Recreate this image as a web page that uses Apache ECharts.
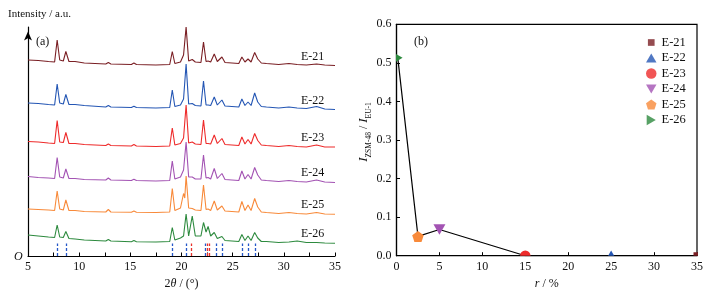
<!DOCTYPE html>
<html><head><meta charset="utf-8">
<script src="https://cdn.jsdelivr.net/npm/echarts@6/dist/echarts.min.js"></script>
<style>html,body{margin:0;padding:0;background:#fff}#c{width:710px;height:296px}</style>
</head><body><div id="c"></div>
<script>
// ---- data: panel (a) XRD patterns (stacked, a.u.) ----
const twoTheta = [5, 6, 7, 7.6, 7.85, 8.1, 8.45, 8.7, 9.0, 9.6, 10.5, 12.6, 12.85, 13.1, 15.1, 15.35, 15.6, 17.5, 18.85, 19.1, 19.35, 19.9, 20.2, 20.32, 20.45, 20.7, 21.05, 21.35, 21.9, 22.15, 22.4, 22.6, 22.85, 23.2, 23.5, 23.95, 24.25, 25.6, 25.9, 26.2, 26.5, 26.8, 27.15, 27.45, 27.8, 28.3, 28.9, 29.5, 30.5, 31.3, 32.2, 33.2, 34, 35];
const e21 = [196, 195.5, 194.5, 194, 216, 196, 195, 204.5, 194.5, 194.5, 193, 192, 193.5, 192, 191.5, 193, 191.5, 191, 191.5, 204.5, 192.5, 194, 201, 200, 229, 195, 196.5, 194, 193.5, 214, 194.5, 195, 194, 202, 194.5, 199, 193.5, 192.5, 199, 194, 197, 194, 203.5, 197, 193, 192.5, 192, 191.5, 192.5, 191.5, 191, 192, 191, 190.5];
const e22 = [153, 152.5, 151.5, 151, 172, 153, 152, 161.5, 151.5, 151.5, 150.5, 149, 150.5, 149, 148.5, 149.8, 148.5, 148, 148.5, 166, 149.5, 151, 157, 156, 192, 152, 152.5, 150.5, 150, 175, 151, 151, 150.5, 159, 151, 156, 150, 149, 157, 150.5, 154, 150.5, 163, 154, 149.5, 149, 148.5, 148, 149, 148, 147.5, 149.5, 147, 146.5];
const e23 = [114.5, 114, 113, 112.5, 135.5, 114, 113.5, 123.5, 112.5, 112.5, 111.5, 110.5, 112, 110.5, 110, 111.5, 110, 109.5, 110, 128, 111, 112.5, 118, 117, 151, 113, 114, 112, 111.5, 136, 112.5, 112.5, 112, 121, 112.5, 117.5, 111.5, 110.5, 119, 112, 116.5, 112, 122.5, 115.5, 111, 110.5, 110, 109.5, 110.5, 109.5, 109, 111, 109, 109];
const e24 = [79.5, 78.5, 78, 77.5, 98.5, 79, 78, 87, 77.5, 77.5, 76.5, 76, 78, 76, 75.5, 76.8, 75.5, 75, 75.5, 95, 77, 79, 86, 84, 114, 79, 79, 77, 77, 101, 78, 78.5, 77, 87.5, 77.5, 82.5, 76.5, 75.5, 85, 77, 81.5, 77, 88.5, 81, 76, 75.5, 75, 74.5, 75.5, 74.5, 74, 76, 74, 73.5];
const e25 = [47, 46.5, 46, 45.5, 65, 47, 46, 56, 45.5, 45.5, 44.5, 44, 46.5, 44, 43.7, 45, 43.7, 43.5, 44, 67.5, 45.5, 48, 62.5, 58, 80, 48, 47.5, 46, 45.5, 71, 46.5, 47, 45.5, 55, 46, 50, 45, 44, 54.5, 45.5, 51, 45.5, 57.5, 49, 44, 43.5, 43, 42.5, 43.5, 42.5, 42, 43.5, 42, 41.7];
const e26 = [21, 20, 19, 18.5, 31, 19, 18.5, 24.5, 17.5, 17, 16, 15, 16.5, 15, 14.3, 15.5, 14.3, 14, 14.5, 28.5, 16, 18, 20, 20, 42, 20, 40, 20, 20, 33.5, 24, 29.5, 20, 23.5, 17.5, 19.5, 15.5, 14.5, 21.5, 15.5, 20, 15.5, 23.5, 18, 14.5, 14.5, 14, 13.5, 14, 15, 13.5, 13.5, 13, 12.7];
const refEU1 = [7.9, 8.7, 19.1, 20.5, 22.3, 23.35, 24.0, 25.95, 26.55, 27.25];
const refZSM48 = [20.95, 22.5, 22.7];
const refHeight = 12.5;
// ---- data: panel (b) ----
const samples = ['E-21', 'E-22', 'E-23', 'E-24', 'E-25', 'E-26'];
const ratioR = [35, 25, 15, 5, 2.5, 0.15];
const ratioI = [0, 0, 0, 0.068, 0.05, 0.513];
const xrdTicks = [5, 10, 15, 20, 25, 30, 35];

const traces = [e21, e22, e23, e24, e25, e26];
const colors = ['#7a1f24', '#2456b4', '#ee2b2b', '#a353b3', '#f88a3a', '#2d8a3e'];
const shapes = [
  'M0,0M11,11M2,2L9,2L9,9L2,9Z',
  'M5,0L10,8.66L0,8.66Z',
  'M5,0A5,5 0 1,1 5,10A5,5 0 1,1 5,0Z',
  'M0,0L10,0L5,8.66Z',
  'M5,0L9.755,3.455L7.939,9.045L2.061,9.045L0.245,3.455Z',
  'M0,0L8.66,5L0,10Z'
];
const sizes = [11, 12, 10.5, 12, 11.5, 11];
const FONT = '"Liberation Serif","DejaVu Serif",serif';
const TXT = '#111';

const series = [];
traces.forEach((arr, k) => {
  series.push({
    type: 'line', name: 'xrd' + samples[k], xAxisIndex: 0, yAxisIndex: 0,
    data: twoTheta.map((x, i) => [x, arr[i]]), showSymbol: false, clip: false,
    lineStyle: { color: colors[k], width: 1.1 }, itemStyle: { color: colors[k] }, z: 3
  });
});
series.push({
  type: 'line', name: 'refs', xAxisIndex: 0, yAxisIndex: 0, data: [],
  markLine: {
    silent: true, symbol: ['none', 'none'], label: { show: false }, animation: false,
    data: refEU1.map(x => [{ coord: [x, 0], lineStyle: { color: '#2456c8', type: [3, 2], width: 1.3 } }, { coord: [x, refHeight] }])
      .concat(refZSM48.map(x => [{ coord: [x, 0], lineStyle: { color: '#e8302a', type: [3, 2], width: 1.3 } }, { coord: [x, refHeight] }]))
  }
});
// panel b: connecting line
const order = ratioR.map((r, i) => i).sort((a, b) => ratioR[a] - ratioR[b]);
series.push({
  type: 'line', name: 'trend', xAxisIndex: 1, yAxisIndex: 1,
  data: order.map(i => [ratioR[i], ratioI[i]]),
  showSymbol: false, lineStyle: { color: '#000', width: 1.2 }, z: 3
});
// markers, clipped to the plot box
series.push({
  type: 'custom', name: 'markers', xAxisIndex: 1, yAxisIndex: 1, clip: true, z: 4,
  data: ratioR.map((r, i) => [r, ratioI[i]]),
  renderItem: (params, api) => {
    const i = params.dataIndex;
    const p = api.coord([api.value(0), api.value(1)]);
    const s = sizes[i];
    return { type: 'path', shape: { pathData: shapes[i], x: p[0] - s / 2, y: p[1] - s / 2, width: s, height: s, layout: 'center' }, style: { fill: colors[i] } };
  }
});
samples.forEach((s, k) => {
  series.push({ type: 'scatter', name: s, xAxisIndex: 1, yAxisIndex: 1, data: [], symbol: 'path://' + shapes[k], itemStyle: { color: colors[k] } });
});

const axisCommon = {
  axisLine: { lineStyle: { color: '#000', width: 1.2 } },
  axisTick: { inside: true, length: 3.5, lineStyle: { color: '#000', width: 1 } },
  axisLabel: { color: TXT, fontFamily: FONT, fontSize: 12, margin: 5 },
  splitLine: { show: false }
};

const option = {
  animation: false,
  grid: [
    { left: 28, top: 27, width: 307, height: 229 },
    { left: 396.5, top: 24.3, width: 300.5, height: 231.4, show: true, borderColor: '#000', borderWidth: 1.2 }
  ],
  xAxis: [
    Object.assign({}, axisCommon, {
      type: 'value', gridIndex: 0, min: 5, max: 35, interval: 2.5,
      axisLabel: Object.assign({}, axisCommon.axisLabel, { formatter: v => (xrdTicks.indexOf(v) >= 0 ? String(v) : '') }),
      name: '{n|2}{i|θ}{n| / (°)}', nameLocation: 'middle', nameGap: 20,
      nameTextStyle: { rich: { n: { fontFamily: FONT, fontSize: 12, color: TXT }, i: { fontFamily: FONT, fontSize: 12, fontStyle: 'italic', color: TXT } } }
    }),
    Object.assign({}, axisCommon, {
      type: 'value', gridIndex: 1, min: 0, max: 35, interval: 5,
      name: '{i|r}{n| / %}', nameLocation: 'middle', nameGap: 20,
      nameTextStyle: { rich: { n: { fontFamily: FONT, fontSize: 12, color: TXT }, i: { fontFamily: FONT, fontSize: 12, fontStyle: 'italic', color: TXT } } }
    })
  ],
  yAxis: [
    {
      type: 'value', gridIndex: 0, min: 0, max: 229,
      axisLine: { show: true, symbol: ['none', 'arrow'], symbolSize: [6, 9], symbolOffset: [0, -4.5], lineStyle: { color: '#000', width: 1.2 } },
      axisTick: { show: false }, axisLabel: { show: false }, splitLine: { show: false }
    },
    Object.assign({}, axisCommon, {
      type: 'value', gridIndex: 1, min: 0, max: 0.6, interval: 0.1,
      axisLabel: Object.assign({}, axisCommon.axisLabel, { formatter: v => v.toFixed(1) })
    })
  ],
  legend: {
    data: samples, orient: 'vertical', left: 641, top: 31,
    itemWidth: 10.5, itemHeight: 10.5, itemGap: 2.5,
    textStyle: { fontFamily: FONT, fontSize: 12.5, color: TXT }
  },
  graphic: [
    { type: 'text', left: 8, top: 9, style: { text: 'Intensity / a.u.', font: '11px ' + FONT, fill: TXT } },
    { type: 'text', left: 36, top: 36, style: { text: '(a)', font: '12px ' + FONT, fill: TXT } },
    { type: 'text', left: 14, top: 251, style: { text: 'O', font: 'italic 12px ' + FONT, fill: TXT } },
    { type: 'text', left: 414, top: 36, style: { text: '(b)', font: '12px ' + FONT, fill: TXT } },
    {
      type: 'text', x: 364, y: 132, rotation: Math.PI / 2,
      style: {
        text: '{i|I}{s|ZSM-48}{n| / }{i|I}{s|EU-1}', align: 'center', verticalAlign: 'middle',
        rich: {
          i: { fontFamily: FONT, fontSize: 13, fontStyle: 'italic', fill: TXT, lineHeight: 18, verticalAlign: 'middle' },
          s: { fontFamily: FONT, fontSize: 7.5, fill: TXT, lineHeight: 8, verticalAlign: 'bottom' },
          n: { fontFamily: FONT, fontSize: 12, fill: TXT, lineHeight: 18, verticalAlign: 'middle' }
        }
      }
    }
  ].concat(samples.map((s, k) => ({
    type: 'text', left: 301, top: [56.5, 101, 138, 173, 205, 233.5][k] - 6,
    style: { text: s, font: '12px ' + FONT, fill: TXT }
  }))),
  series: series
};
const chart = echarts.init(document.getElementById('c'), null, { renderer: 'canvas' });
chart.setOption(option);
</script></body></html>
